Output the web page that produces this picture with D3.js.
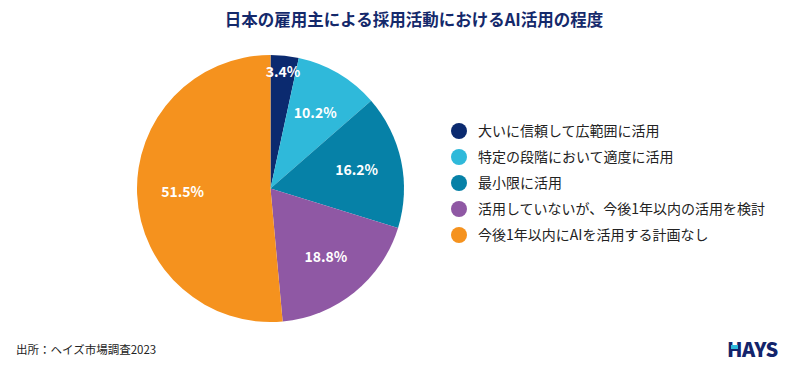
<!DOCTYPE html>
<html><head><meta charset="utf-8">
<script src="https://cdn.jsdelivr.net/npm/d3@7"></script>
<style>body{margin:0;background:#fff}svg{display:block}text{font-family:"Noto Sans CJK JP","Noto Sans",sans-serif}</style>
</head><body>
<svg id="c" width="800" height="369"></svg>
<script>
const categories = ["大いに信頼して広範囲に活用","特定の段階において適度に活用","最小限に活用","活用していないが、今後1年以内の活用を検討","今後1年以内にAIを活用する計画なし"];
const values = [3.4,10.2,16.2,18.8,51.5];
const colors = ["#0b2a6f","#2fb9da","#0681a7","#8f58a4","#f5921e"];
const title = "日本の雇用主による採用活動におけるAI活用の程度";
const source = "出所：ヘイズ市場調査2023";

const svg = d3.select("#c");
svg.append("text").attr("x",414).attr("y",26).attr("text-anchor","middle")
  .attr("font-size",16.5).attr("font-weight",700).attr("fill","#14296b").text(title);

const cx=270.5, cy=188.5, R=133.5;
const g = svg.append("g").attr("transform",`translate(${cx},${cy})`);
const pie = d3.pie().sort(null).value(d=>d);
const arcs = pie(values);
const arc = d3.arc().innerRadius(0).outerRadius(R);
g.selectAll("path").data(arcs).join("path").attr("d",arc).attr("fill",(d,i)=>colors[i]);
const lab = d3.arc().innerRadius(88).outerRadius(88);
const labOut = d3.arc().innerRadius(117).outerRadius(117);
g.selectAll("text.v").data(arcs).join("text").attr("class","v")
  .attr("transform",d=>`translate(${(d.data<5?labOut:lab).centroid(d)})`)
  .attr("text-anchor","middle").attr("dy","0.35em")
  .attr("font-family","Roboto,sans-serif").attr("font-size",14).attr("font-weight",700)
  .attr("fill","#fff").text(d=>d.data.toFixed(1)+"%");

const lg = svg.append("g").attr("transform","translate(459,131)");
const item = lg.selectAll("g").data(categories).join("g").attr("transform",(d,i)=>`translate(0,${i*26})`);
item.append("circle").attr("r",8).attr("fill",(d,i)=>colors[i]);
item.append("text").attr("x",19).attr("dy","0.35em").attr("font-size",14).attr("fill","#222").text(d=>d);

svg.append("text").attr("x",16).attr("y",354).attr("font-size",11.5).attr("fill","#222").text(source);
svg.append("text").attr("x",727).attr("y",357).attr("font-family","Roboto,sans-serif")
  .attr("font-size",20).attr("font-weight",900).attr("fill","#13246b").attr("letter-spacing",-0.5).text("HAYS");
svg.append("rect").attr("x",731).attr("y",345).attr("width",7).attr("height",4).attr("fill","#2fb9da");
</script>
</body></html>
